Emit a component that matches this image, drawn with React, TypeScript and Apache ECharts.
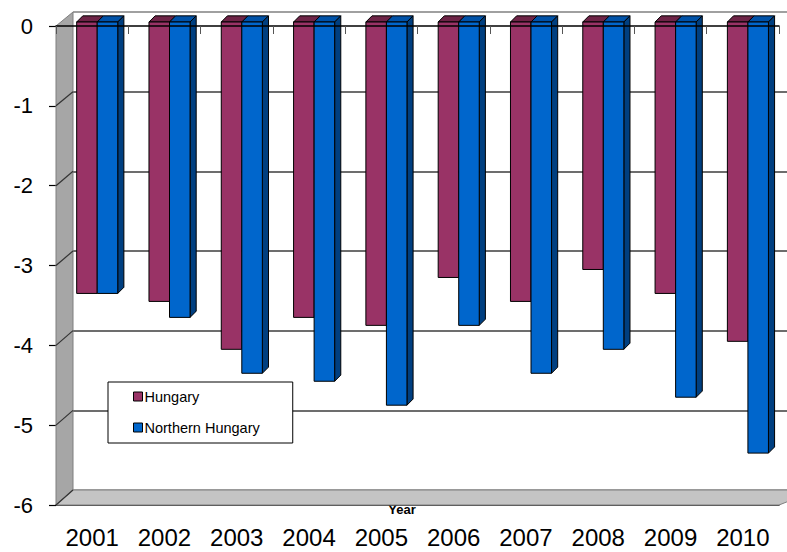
import React, { useEffect, useRef } from "react";
import * as echarts from "echarts";

const years = ["2001", "2002", "2003", "2004", "2005", "2006", "2007", "2008", "2009", "2010"];
const hungary = [-3.4, -3.5, -4.1, -3.7, -3.8, -3.2, -3.5, -3.1, -3.4, -4.0];
const northernHungary = [-3.4, -3.7, -4.4, -4.5, -4.8, -3.8, -4.4, -4.1, -4.7, -5.4];
const yMin = -6;
const yMax = 0;
const yInterval = 1;

const W = 787;
const H = 552;
const FRONT = { left: 56, right: 8, top: 26, bottom: 47 };
const BACK = { left: 73, right: 0, top: 12, bottom: 62 };
const FONT = "'Liberation Sans', Arial, sans-serif";

const COLORS = {
  hungary: { front: "#993366", top: "#6e2447", side: "#5e1f3d" },
  northern: { front: "#0066cc", top: "#0052a8", side: "#003f80" },
};

function makeRender(side: "left" | "right", col: { front: string; top: string; side: string }) {
  return (params: any, api: any) => {
    const i = api.value(0);
    const v = api.value(1);
    const p0 = api.coord([i, 0]);
    const p1 = api.coord([i, v]);
    const band = api.size([1, 0])[0];
    const w = band * 0.284;
    const d = band * 0.085;
    const shift = band * 0.07;
    const dy = -4;
    const cx = p0[0] + shift;
    const x0 = side === "left" ? cx - w : cx;
    const x1 = x0 + w;
    const yT = p0[1] + dy;
    const yB = p1[1] + dy;
    const children: any[] = [
      {
        type: "polygon",
        shape: { points: [[x0, yT], [x0 + d, yT - d], [x1 + d, yT - d], [x1, yT]] },
        style: { fill: col.top, stroke: "#000", lineWidth: 1 },
      },
    ];
    if (side === "right") {
      children.push({
        type: "polygon",
        shape: { points: [[x1, yT], [x1 + d, yT - d], [x1 + d, yB - d], [x1, yB]] },
        style: { fill: col.side, stroke: "#000", lineWidth: 1 },
      });
    }
    children.push({
      type: "rect",
      shape: { x: x0, y: yT, width: w, height: yB - yT },
      style: { fill: col.front, stroke: "#000", lineWidth: 1 },
    });
    return { type: "group", children };
  };
}

export default function App() {
  const ref = useRef<HTMLDivElement>(null);

  useEffect(() => {
    if (!ref.current) return;
    const chart = echarts.init(ref.current, undefined, { renderer: "svg" });

    const fx = FRONT.left;
    const fRight = W - FRONT.right;
    const fy0 = FRONT.top;
    const fy6 = H - FRONT.bottom;
    const bx = BACK.left;
    const by0 = BACK.top;
    const by6 = H - BACK.bottom;
    const nSteps = (yMax - yMin) / yInterval;

    const graphics: any[] = [
      {
        type: "polygon",
        z: 1,
        shape: { points: [[fx, fy0], [bx, by0], [bx, by6], [fx, fy6]] },
        style: { fill: "#a6a6a6", stroke: "#7f7f7f", lineWidth: 1 },
      },
      {
        type: "polygon",
        z: 1,
        shape: { points: [[fx, fy6], [bx, by6], [W + 30, by6], [fRight, fy6]] },
        style: { fill: "#c4c4c4", stroke: "#7f7f7f", lineWidth: 1 },
      },
    ];
    for (let k = 1; k <= nSteps; k++) {
      const a = fy0 + (k * (fy6 - fy0)) / nSteps;
      const b = by0 + (k * (by6 - by0)) / nSteps;
      graphics.push({
        type: "line",
        z: 2,
        shape: { x1: fx, y1: a, x2: bx, y2: b },
        style: { stroke: "#333", lineWidth: 1.2 },
      });
    }

    const splitColors = ["#9a9a9a"];
    for (let k = 1; k < nSteps; k++) splitColors.push("#3c3c3c");
    splitColors.push("#808080");

    chart.setOption({
      animation: false,
      backgroundColor: "#fff",
      textStyle: { fontFamily: FONT },
      grid: [
        { left: FRONT.left, right: FRONT.right, top: FRONT.top, bottom: FRONT.bottom, containLabel: false, outerBoundsMode: "none" },
        { left: BACK.left, right: BACK.right, top: BACK.top, bottom: BACK.bottom, containLabel: false, outerBoundsMode: "none" },
      ],
      legend: {
        data: ["Hungary", "Northern Hungary"],
        orient: "vertical",
        left: 108,
        top: 382,
        padding: [7, 33, 8, 25],
        itemWidth: 9,
        itemHeight: 9,
        itemGap: 16,
        icon: "rect",
        backgroundColor: "#fff",
        borderColor: "#000",
        borderWidth: 1,
        itemStyle: { borderColor: "#000", borderWidth: 1 },
        textStyle: { fontSize: 14.5, color: "#000", fontFamily: FONT, lineHeight: 14, padding: [0, 0, 0, -3] },
      },
      xAxis: [
        {
          type: "category",
          gridIndex: 0,
          data: years,
          position: "bottom",
          axisLine: { onZero: false, lineStyle: { color: "#000", width: 1.5 } },
          axisTick: { show: false },
          axisLabel: { fontSize: 24, color: "#000", margin: 20, fontFamily: FONT },
          name: "Year",
          nameLocation: "middle",
          nameGap: -2,
          nameMoveOverlap: false,
          nameTextStyle: { fontSize: 13, fontWeight: "bold", color: "#000", padding: [0, 31, 0, 0] },
        },
        {
          type: "category",
          gridIndex: 0,
          data: years,
          position: "top",
          z: 5,
          axisLine: { onZero: false, lineStyle: { color: "#000", width: 1.5 } },
          axisTick: { show: true, inside: true, length: 8, lineStyle: { color: "#555" } },
          axisLabel: { show: false },
        },
        {
          type: "category",
          gridIndex: 1,
          data: years,
          show: false,
        },
      ],
      yAxis: [
        {
          type: "value",
          gridIndex: 0,
          min: yMin,
          max: yMax,
          interval: yInterval,
          axisLine: { show: true, lineStyle: { color: "#666" } },
          axisTick: { show: true, length: 7, lineStyle: { color: "#000", width: 1.2 } },
          axisLabel: { fontSize: 22, color: "#000", margin: 23, fontFamily: FONT },
          splitLine: { show: false },
        },
        {
          type: "value",
          gridIndex: 1,
          min: yMin,
          max: yMax,
          interval: yInterval,
          axisLine: { show: false },
          axisTick: { show: false },
          axisLabel: { show: false },
          splitLine: { show: true, lineStyle: { color: splitColors, width: 1.6 } },
        },
      ],
      graphic: graphics,
      series: [
        {
          name: "Hungary",
          type: "custom",
          xAxisIndex: 0,
          yAxisIndex: 0,
          z: 3,
          itemStyle: { color: COLORS.hungary.front },
          renderItem: makeRender("left", COLORS.hungary),
          data: hungary.map((v, i) => [i, v]),
          encode: { x: 0, y: 1 },
        },
        {
          name: "Northern Hungary",
          type: "custom",
          xAxisIndex: 0,
          yAxisIndex: 0,
          z: 3,
          itemStyle: { color: COLORS.northern.front },
          renderItem: makeRender("right", COLORS.northern),
          data: northernHungary.map((v, i) => [i, v]),
          encode: { x: 0, y: 1 },
        },
      ],
    });

    return () => chart.dispose();
  }, []);

  return (
    <div
      ref={ref}
      style={{ position: "fixed", left: 0, top: 0, width: W, height: H }}
    />
  );
}
